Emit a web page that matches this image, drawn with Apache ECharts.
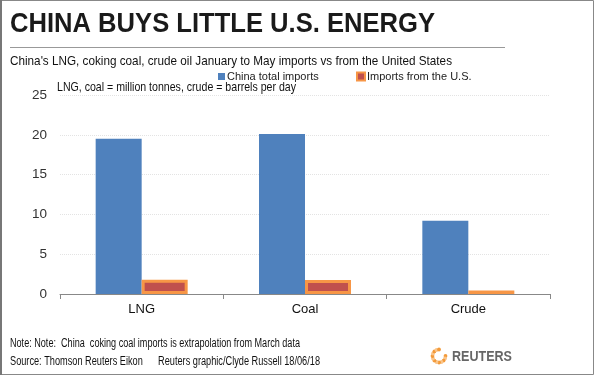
<!DOCTYPE html>
<html>
<head>
<meta charset="utf-8">
<script src="https://cdn.jsdelivr.net/npm/echarts@6/dist/echarts.min.js"></script>
<style>
  html, body { margin: 0; padding: 0; background: #fff; }
  #chart-div { width: 594px; height: 375px; }
</style>
</head>
<body>
<div id="chart-div"></div>
<script>
// data
const categories = ['LNG', 'Coal', 'Crude']
const chinaTotal = [19.5, 20.1, 9.2]
const fromUS = [1.8, 1.75, 0.45]
const yTicks = [0, 5, 10, 15, 20, 25]

const sans = 'Arial, "Liberation Sans", sans-serif'

// the reference uses a condensed face, so squeeze text to the width it had
const ctx = document.createElement('canvas').getContext('2d')
function fitText(text, font, x, y, right, fill) {
    ctx.font = font
    const w = ctx.measureText(text).width
    return {
        type: 'text', x: x, y: y, scaleX: (right - x) / w,
        style: { text: text, font: font, fill: fill || '#111' }
    }
}

// reuters logo: a ring of dots
let logo = []
for (let i = 0; i < 16; i++) {
    const a = (i / 16) * Math.PI * 2
    if (i > 12 && i < 16) continue
    logo.push({
        type: 'circle',
        shape: { cx: 439 + Math.cos(a) * 6.5, cy: 356 + Math.sin(a) * 6.5, r: 1.9 },
        style: { fill: i % 2 ? '#FAC58A' : '#F39A3A' }
    })
}

let myChart = echarts.init(document.getElementById('chart-div'))

const legendText = { fontFamily: sans, fontSize: 11, color: '#222', padding: [0, 0, 0, -3] }

const option = {
    animation: false,
    backgroundColor: '#fff',
    grid: { left: 60, right: 44, top: 95, bottom: 81, containLabel: false },
    legend: [
        {
            top: 66, left: 213, itemWidth: 7, itemHeight: 7,
            textStyle: legendText,
            data: [{ name: 'China total imports', icon: 'rect' }]
        },
        {
            top: 66, left: 351, itemWidth: 8, itemHeight: 8,
            textStyle: legendText,
            data: [{ name: 'Imports from the U.S.', icon: 'rect' }]
        }
    ],
    xAxis: {
        type: 'category',
        data: categories,
        axisLine: { lineStyle: { color: '#888' } },
        axisTick: { show: true, length: 5, lineStyle: { color: '#888' } },
        axisLabel: { fontFamily: sans, fontSize: 13, color: '#111', margin: 9 }
    },
    yAxis: {
        type: 'value',
        min: 0, max: 25, interval: 5,
        axisLine: { show: false },
        axisTick: { show: false },
        axisLabel: {
            fontFamily: sans, fontSize: 13.5, color: '#333', margin: 13,
            formatter: v => yTicks.includes(v) ? String(v) : ''
        },
        splitLine: { lineStyle: { color: '#e3e3e3', type: [1, 1] } }
    },
    series: [
        {
            name: 'China total imports',
            type: 'bar',
            data: chinaTotal,
            barWidth: 46,
            barGap: '0%',
            itemStyle: { color: '#4F81BD' }
        },
        {
            name: 'Imports from the U.S.',
            type: 'bar',
            data: fromUS,
            barWidth: 46,
            itemStyle: { color: '#C0504D', borderColor: '#F79646', borderWidth: 3 }
        }
    ],
    graphic: [
        { type: 'rect', shape: { x: 0.5, y: 0.5, width: 593, height: 374 }, style: { fill: 'none', stroke: '#888', lineWidth: 1 } },
        { type: 'rect', shape: { x: 0, y: 0, width: 2, height: 375 }, style: { fill: '#777' } },
        fitText('CHINA BUYS LITTLE U.S. ENERGY', 'bold 28px ' + sans, 10, 10, 435, '#1a1a1a'),
        { type: 'line', shape: { x1: 10, y1: 47.5, x2: 505, y2: 47.5 }, style: { stroke: '#999', lineWidth: 1 } },
        fitText("China's LNG, coking coal, crude oil January to May imports vs from the United States", '13.5px ' + sans, 10, 54, 452),
        fitText('LNG, coal = million tonnes, crude = barrels per day', '13px ' + sans, 57, 81, 296),
        fitText('Note: Note:  China  coking coal imports is extrapolation from March data', '12px ' + sans, 10, 338, 300),
        fitText('Source: Thomson Reuters Eikon      Reuters graphic/Clyde Russell 18/06/18', '12px ' + sans, 10, 356, 320),
        ...logo,
        fitText('REUTERS', 'bold 14px ' + sans, 452, 350, 512, '#666')
    ]
}

myChart.setOption(option)
</script>
</body>
</html>
